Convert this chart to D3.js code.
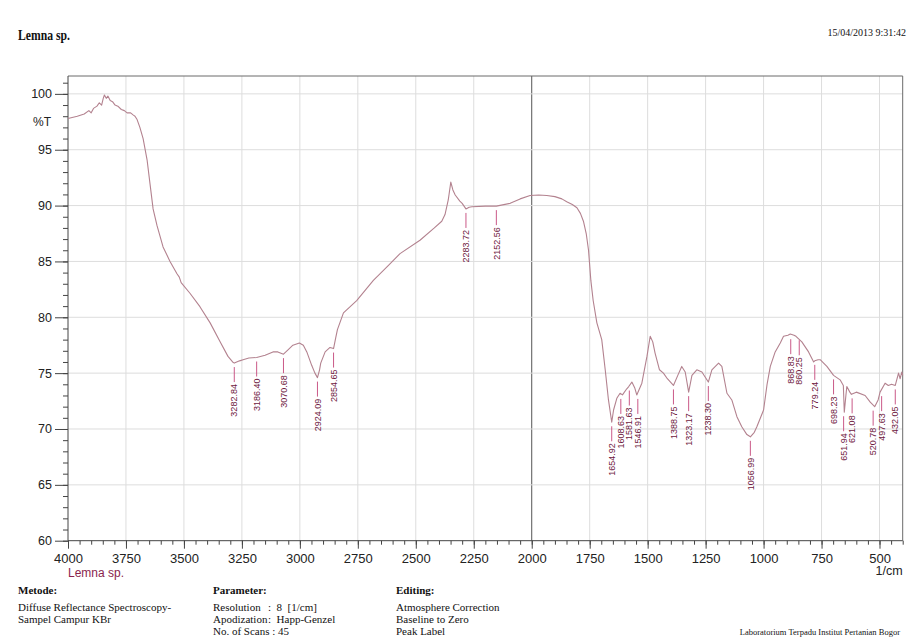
<!DOCTYPE html>
<html>
<head>
<meta charset="utf-8">
<script src="https://cdn.jsdelivr.net/npm/d3@7"></script>
<style>
  html, body { margin: 0; padding: 0; background: #ffffff; }
  svg { display: block; }
</style>
</head>
<body>
<svg id="chart" width="920" height="638"></svg>
<script>
// FTIR spectrum of Lemna sp. (wavenumber in 1/cm, transmittance in %T)
const wavenumbers = [
  4000, 3960, 3930, 3910, 3900, 3890, 3875, 3865, 3855, 3848, 3843, 3835, 3828, 3818, 3808,
  3797, 3785, 3770, 3757, 3745, 3730, 3718, 3711, 3702, 3690, 3676, 3659, 3646, 3633, 3616,
  3590, 3560, 3530, 3520, 3512, 3474, 3431, 3387, 3344, 3310, 3290, 3282.84, 3260, 3245, 3220,
  3186.40, 3150, 3116, 3095, 3070.68, 3050, 3030, 3002, 2985, 2970, 2949, 2935, 2924.09, 2915,
  2910, 2891, 2870, 2854.65, 2845, 2838, 2812, 2755, 2683, 2620, 2568, 2482, 2420, 2388, 2374,
  2360, 2349, 2340, 2330, 2310, 2300, 2283.72, 2270, 2258, 2200, 2152.56, 2093, 2050, 2007, 1970,
  1935, 1900, 1870, 1849, 1825, 1805, 1790, 1777, 1765, 1755, 1745, 1735, 1719, 1698, 1683,
  1669, 1654.92, 1647, 1633, 1619, 1608.63, 1590, 1581.63, 1568, 1556, 1546.91, 1525, 1503, 1489, 1478,
  1468, 1449, 1432, 1415, 1388.75, 1370, 1353, 1338, 1323.17, 1309, 1288, 1266, 1238.30, 1223, 1194,
  1180, 1158, 1137, 1115, 1094, 1072, 1056.99, 1040, 1029, 1000, 985, 971, 950, 928, 914,
  895, 885, 868.83, 860.25, 835, 806, 784, 779.24, 765, 756, 727, 698.23, 670, 656, 651.94,
  645, 641, 628, 621.08, 600, 562, 540, 520.78, 506, 497.63, 476, 462, 448, 432.05, 418,
  411, 404, 400
];
const transmittance = [
  97.8, 98.0, 98.2, 98.5, 98.3, 98.7, 98.9, 99.2, 99.0, 99.6, 99.9, 99.6, 99.8, 99.4, 99.3,
  99.0, 98.9, 98.6, 98.5, 98.3, 98.3, 98.1, 98.0, 97.7, 97.0, 96.0, 94.1, 91.9, 89.7, 88.2,
  86.3, 85.0, 83.9, 83.6, 83.1, 82.15, 80.95, 79.5, 77.8, 76.5, 76.0, 75.9, 76.1, 76.2, 76.35,
  76.4, 76.6, 76.9, 76.9, 76.7, 77.1, 77.5, 77.7, 77.5, 76.9, 75.7, 75.0, 74.6, 75.3,
  75.9, 76.9, 77.3, 77.2, 78.2, 78.9, 80.4, 81.5, 83.3, 84.6, 85.7, 86.9, 88.0, 88.6, 89.2,
  90.5, 92.1, 91.4, 90.95, 90.4, 90.2, 89.7, 89.85, 89.9, 89.95, 89.95, 90.2, 90.6, 90.9, 90.95,
  90.9, 90.8, 90.6, 90.35, 90.1, 89.8, 89.3, 88.6, 87.5, 86.0, 83.3, 81.5, 79.5, 78.0, 75.3,
  72.6, 70.6, 71.7, 72.75, 73.2, 73.05, 73.6, 73.8, 74.2, 73.7, 73.05, 74.1, 76.5, 78.3, 77.8,
  76.8, 75.3, 75.0, 74.5, 73.9, 74.8, 75.6, 75.1, 73.3, 74.8, 75.3, 75.1, 74.2, 75.3, 75.9,
  75.6, 73.2, 72.6, 71.1, 70.2, 69.5, 69.3, 69.7, 70.2, 71.7, 74.0, 75.6, 76.9, 77.7, 78.3,
  78.4, 78.5, 78.4, 78.3, 77.8, 76.9, 76.0, 76.1, 76.2, 76.2, 75.6, 74.8, 74.4, 73.9, 71.5,
  73.0, 73.8, 73.3, 73.1, 73.3, 73.0, 72.4, 72.0, 72.6, 73.3, 74.1, 73.9, 74.0, 73.9, 75.0,
  74.5, 75.1, 74.8
];

// Labelled peaks
const peakWavenumbers = [
  3282.84, 3186.40, 3070.68, 2924.09, 2854.65, 2283.72, 2152.56, 1654.92, 1608.63, 1581.63,
  1546.91, 1388.75, 1323.17, 1238.30, 1056.99, 868.83, 860.25, 779.24, 698.23, 651.94,
  621.08, 520.78, 497.63, 432.05
];

const xTickValues = [4000, 3750, 3500, 3250, 3000, 2750, 2500, 2250, 2000, 1750, 1500, 1250, 1000, 750, 500];
const xMinorTicks = d3.range(4000, 399, -50);
const yTickValues = [60, 65, 70, 75, 80, 85, 90, 95, 100];
const yMinorTicks = d3.range(60, 102, 1);

const titleText = "Lemna sp.";
const dateText = "15/04/2013 9:31:42";
const seriesName = "Lemna sp.";
const xUnit = "1/cm";
const yUnit = "%T";
const methodLines = ["Diffuse Reflectance Spectroscopy-", "Sampel Campur KBr"];
const parameterNames = ["Resolution", "Apodization", "No. of Scans"];
const parameterValues = ["8  [1/cm]", "Happ-Genzel", "45"];
const editingLines = ["Atmosphere Correction", "Baseline to Zero", "Peak Label"];
const footerText = "Laboratorium Terpadu Institut Pertanian Bogor";

const sans = "'Liberation Sans', Arial, sans-serif";
const serif = "'Liberation Serif', 'Times New Roman', serif";

const svg = d3.select("#chart");
const plotLeft = 68, plotRight = 902.7, plotTop = 76, plotBottom = 540.7;

const x = d3.scaleLinear().domain([4000, 400]).range([plotLeft, plotRight]);
const y = d3.scaleLinear().domain([60, 101.6]).range([plotBottom, plotTop]);

// grid
const grid = svg.append("g");
grid.selectAll("line.v").data(xTickValues.filter(v => v !== 4000)).join("line")
  .attr("x1", d => x(d)).attr("x2", d => x(d)).attr("y1", plotTop).attr("y2", plotBottom)
  .attr("stroke", d => d === 2000 ? "#555" : "#dddddd")
  .attr("stroke-width", 1);
grid.selectAll("line.h").data(yTickValues.filter(v => v !== 60)).join("line")
  .attr("x1", plotLeft).attr("x2", plotRight).attr("y1", d => y(d)).attr("y2", d => y(d))
  .attr("stroke", "#dddddd").attr("stroke-width", 1);

// frame
svg.append("path")
  .attr("d", `M${plotLeft},${plotTop}H${plotRight}V${plotBottom}`)
  .attr("fill", "none").attr("stroke", "#6a6a6a").attr("stroke-width", 1);

// axes
const axisColor = "#444";
const gy = svg.append("g").attr("transform", `translate(${plotLeft},0)`)
  .call(d3.axisLeft(y).tickValues(yTickValues).tickSize(13).tickPadding(3).tickSizeOuter(0));
const gyMinor = svg.append("g").attr("transform", `translate(${plotLeft},0)`)
  .call(d3.axisLeft(y).tickValues(yMinorTicks).tickSize(5).tickFormat("").tickSizeOuter(0));
const gx = svg.append("g").attr("transform", `translate(0,${plotBottom})`)
  .call(d3.axisBottom(x).tickValues(xTickValues).tickFormat(d3.format("d"))
    .tickSize(8).tickPadding(5).tickSizeOuter(0));
const gxMinor = svg.append("g").attr("transform", `translate(0,${plotBottom})`)
  .call(d3.axisBottom(x).tickValues(xMinorTicks).tickSize(4).tickFormat("").tickSizeOuter(0));

[gy, gyMinor, gx, gxMinor].forEach(g => {
  g.select(".domain").remove();
  g.selectAll(".tick line").attr("stroke", axisColor);
  g.selectAll("text").attr("fill", "#222").style("font-family", sans);
});
gy.selectAll("text").style("font-size", "12.5px");
gx.selectAll("text").style("font-size", "13px");

svg.append("line").attr("x1", plotLeft).attr("x2", plotLeft).attr("y1", plotTop).attr("y2", plotBottom)
  .attr("stroke", axisColor);
svg.append("line").attr("x1", plotLeft).attr("x2", plotRight).attr("y1", plotBottom).attr("y2", plotBottom)
  .attr("stroke", axisColor);

// axis captions
svg.append("text").attr("x", 33).attr("y", 126).text(yUnit)
  .style("font-family", sans).style("font-size", "12px").attr("fill", "#222");
svg.append("text").attr("x", plotRight).attr("y", 575).attr("text-anchor", "end").text(xUnit)
  .style("font-family", sans).style("font-size", "12.5px").attr("fill", "#222");
svg.append("text").attr("x", plotLeft).attr("y", 577).text(seriesName)
  .style("font-family", sans).style("font-size", "12px").attr("fill", "#8a1f4e");

// spectrum
const points = wavenumbers.map((w, i) => [w, transmittance[i]]);
svg.append("path").datum(points)
  .attr("fill", "none").attr("stroke", "#b3828f").attr("stroke-width", 1.1)
  .attr("stroke-linejoin", "round")
  .attr("d", d3.line().x(d => x(d[0])).y(d => y(d[1])));

// peak labels
const tAt = w => {
  const i = wavenumbers.indexOf(w);
  if (i >= 0) return transmittance[i];
  const j = wavenumbers.findIndex(v => v < w);
  const t = (wavenumbers[j - 1] - w) / (wavenumbers[j - 1] - wavenumbers[j]);
  return transmittance[j - 1] + t * (transmittance[j] - transmittance[j - 1]);
};
const peaks = peakWavenumbers.map(w => ({ w, t: tAt(w), px: x(w) }));
// spread crowded labels apart
const minGap = 8.5;
for (let iter = 0; iter < 60; iter++) {
  for (let i = 0; i < peaks.length - 1; i++) {
    const d = peaks[i + 1].px - peaks[i].px;
    if (d < minGap) {
      const s = (minGap - d) / 2;
      peaks[i].px -= s; peaks[i + 1].px += s;
    }
  }
}
const pg = svg.append("g");
peaks.forEach(p => {
  const py = y(p.t);
  pg.append("line").attr("x1", p.px).attr("x2", p.px)
    .attr("y1", py + 4).attr("y2", py + 19)
    .attr("stroke", "#c4467a").attr("stroke-width", 0.9);
  pg.append("text")
    .attr("transform", `translate(${p.px},${py + 21}) rotate(-90)`)
    .attr("text-anchor", "end").attr("dy", "0.35em")
    .style("font-family", sans).style("font-size", "9px").attr("fill", "#6e1840")
    .text(p.w.toFixed(2));
});

// header
svg.append("text").attr("x", 18).attr("y", 40).text(titleText)
  .style("font-family", serif).style("font-size", "15px").style("font-weight", "bold")
  .attr("textLength", 52).attr("lengthAdjust", "spacingAndGlyphs").attr("fill", "#111");
svg.append("text").attr("x", 906).attr("y", 36).attr("text-anchor", "end").text(dateText)
  .style("font-family", serif).style("font-size", "10px").attr("fill", "#111");

// footer blocks
const foot = svg.append("g").style("font-family", serif).attr("fill", "#111");
const rowY = [611, 623, 634.5];
foot.append("text").attr("x", 18).attr("y", 594).text("Metode:")
  .style("font-size", "11px").style("font-weight", "bold");
methodLines.forEach((s, i) => foot.append("text").attr("x", 18).attr("y", rowY[i]).text(s).style("font-size", "11px"));

foot.append("text").attr("x", 213).attr("y", 594).text("Parameter:")
  .style("font-size", "11px").style("font-weight", "bold");
parameterNames.forEach((s, i) => {
  foot.append("text").attr("x", 213).attr("y", rowY[i]).style("font-size", "11px")
    .attr("xml:space", "preserve")
    .text(i === 2 ? `${s} : ${parameterValues[i]}` : s);
  if (i < 2) {
    foot.append("text").attr("x", 268).attr("y", rowY[i]).style("font-size", "11px")
      .attr("xml:space", "preserve").text(":  " + parameterValues[i]);
  }
});

foot.append("text").attr("x", 396).attr("y", 594).text("Editing:")
  .style("font-size", "11px").style("font-weight", "bold");
editingLines.forEach((s, i) => foot.append("text").attr("x", 396).attr("y", rowY[i]).text(s).style("font-size", "11px"));

foot.append("text").attr("x", 900).attr("y", 635).attr("text-anchor", "end").text(footerText)
  .style("font-size", "8.5px");
</script>
</body>
</html>
